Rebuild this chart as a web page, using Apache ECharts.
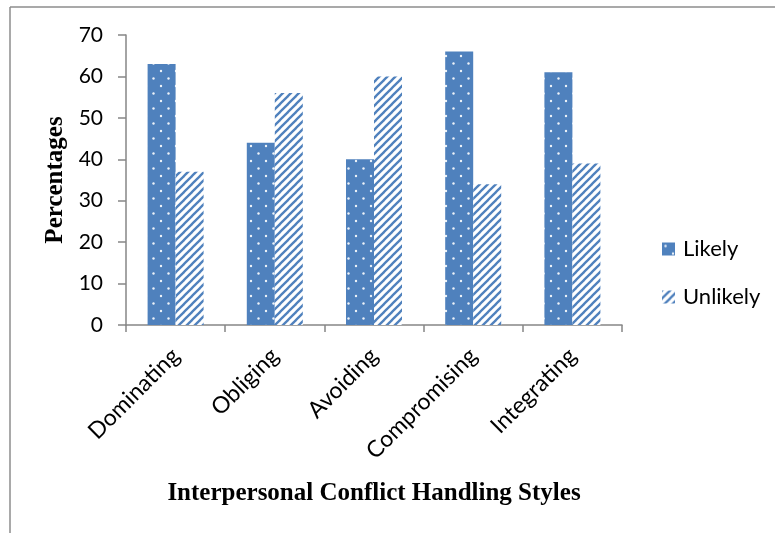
<!DOCTYPE html>
<html>
<head>
<meta charset="utf-8">
<script src="https://cdn.jsdelivr.net/npm/echarts@6/dist/echarts.min.js"></script>
<style>
html,body{margin:0;padding:0;background:#fff;}
#chart{width:775px;height:533px;}
</style>
</head>
<body>
<div id="chart"></div>
<script>
var categories = ['Dominating', 'Obliging', 'Avoiding', 'Compromising', 'Integrating'];
var likely = [63, 44, 40, 66, 61];
var unlikely = [37, 56, 60, 34, 39];
var yTicks = { min: 0, max: 70, interval: 10 };

var BLUE = '#4F81BD';

function dotPattern() {
  var c = document.createElement('canvas');
  c.width = 15; c.height = 15;
  var g = c.getContext('2d');
  g.fillStyle = BLUE;
  g.fillRect(0, 0, 15, 15);
  g.fillStyle = 'rgba(255,255,255,0.9)';
  [[3.5, 3.5], [11, 11]].forEach(function (p) {
    g.beginPath();
    g.arc(p[0], p[1], 1.2, 0, Math.PI * 2);
    g.fill();
  });
  return c;
}
function stripePattern() {
  var s = 8;
  var c = document.createElement('canvas');
  c.width = s; c.height = s;
  var g = c.getContext('2d');
  g.fillStyle = '#fff';
  g.fillRect(0, 0, s, s);
  g.strokeStyle = BLUE;
  g.lineWidth = 2.3;
  [-s, 0, s].forEach(function (o) {
    g.beginPath();
    g.moveTo(o - 1, s + 1);
    g.lineTo(o + s + 1, -1);
    g.stroke();
  });
  return c;
}

var chart = echarts.init(document.getElementById('chart'));
var axisColor = '#868686';
chart.setOption({
  animation: false,
  grid: { left: 126, right: 153, top: 35, bottom: 208, containLabel: false },
  legend: {
    orient: 'vertical',
    left: 662,
    top: 238,
    padding: 0,
    itemWidth: 13,
    itemHeight: 13,
    itemGap: 26,
    icon: 'rect',
    textStyle: { fontFamily: 'Lato', fontSize: 22, color: '#000', lineHeight: 21, padding: [0, 0, 0, 3] },
    data: ['Likely', 'Unlikely']
  },
  xAxis: {
    type: 'category',
    data: categories,
    name: 'Interpersonal Conflict Handling Styles',
    nameLocation: 'middle',
    nameGap: 156,
    nameTextStyle: { fontFamily: 'Liberation Serif', fontWeight: 'bold', fontSize: 25, color: '#000' },
    axisLine: { show: true, lineStyle: { color: axisColor, width: 1.5 } },
    axisTick: { show: true, length: 7, lineStyle: { color: axisColor, width: 1.5 } },
    axisLabel: { rotate: 45, margin: 27, fontFamily: 'Lato', fontSize: 23, color: '#000' },
    splitLine: { show: false }
  },
  yAxis: {
    type: 'value',
    min: yTicks.min,
    max: yTicks.max,
    interval: yTicks.interval,
    name: 'Percentages',
    nameLocation: 'middle',
    nameGap: 58,
    nameRotate: 90,
    nameTextStyle: { fontFamily: 'Liberation Serif', fontWeight: 'bold', fontSize: 25, color: '#000' },
    axisLine: { show: true, lineStyle: { color: axisColor, width: 1.5 } },
    axisTick: { show: true, inside: false, length: 8, lineStyle: { color: axisColor, width: 1.5 } },
    axisLabel: { margin: 23, fontFamily: 'Lato', fontSize: 21, color: '#000' },
    splitLine: { show: false }
  },
  graphic: [
    { type: 'line', shape: { x1: 10, y1: 7, x2: 775, y2: 7 }, style: { stroke: '#8c8c8c', lineWidth: 1.5 } },
    { type: 'line', shape: { x1: 10, y1: 7, x2: 10, y2: 533 }, style: { stroke: '#8c8c8c', lineWidth: 1.5 } }
  ],
  series: [
    {
      name: 'Likely', type: 'bar', data: likely, barWidth: 28, barGap: '0%',
      itemStyle: { color: { image: dotPattern(), repeat: 'repeat' } }
    },
    {
      name: 'Unlikely', type: 'bar', data: unlikely, barWidth: 28, barGap: '0%',
      itemStyle: { color: { image: stripePattern(), repeat: 'repeat' } }
    }
  ]
});
</script>
</body>
</html>
